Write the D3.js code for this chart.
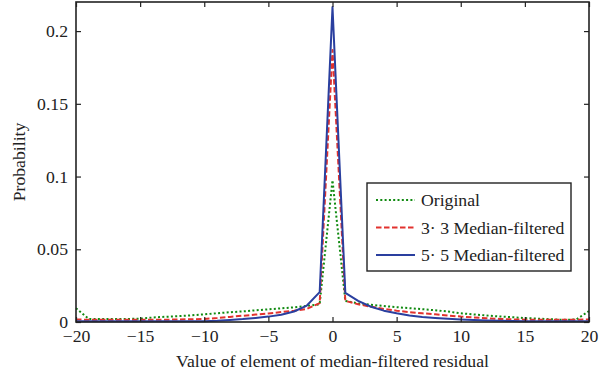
<!DOCTYPE html>
<html>
<head>
<meta charset="utf-8">
<script src="https://cdn.jsdelivr.net/npm/d3@7"></script>
<style>
    body { margin: 0; background: #fff; }
    svg { display: block; }
    .tick-label, .axis-title, .legend-text {
        font-family: "Liberation Serif", "Times New Roman", serif;
        font-size: 17.7px;
        fill: #222;
    }
</style>
</head>
<body>
<div id="chart"></div>
<script>
// value of residual element (x) and probability per filter
const xValues = d3.range(-20, 21);

const original = [
    0.0095, 0.0021, 0.0020, 0.0020, 0.0021, 0.0023, 0.0031, 0.0036, 0.0040, 0.0046,
    0.0053, 0.0060, 0.0067, 0.0073, 0.0080, 0.0087, 0.0094, 0.0101, 0.0110, 0.0122,
    0.0975,
    0.0145, 0.0128, 0.0118, 0.0110, 0.0102, 0.0095, 0.0088, 0.0081, 0.0072, 0.0060,
    0.0052, 0.0045, 0.0038, 0.0033, 0.0027, 0.0023, 0.0019, 0.0015, 0.0017, 0.0075,
];

const median3 = [
    0.0018, 0.0015, 0.0015, 0.0015, 0.0015, 0.0015, 0.0015, 0.0016, 0.0017, 0.0019,
    0.0021, 0.0027, 0.0035, 0.0043, 0.0051, 0.0059, 0.0068, 0.0078, 0.0090, 0.0130,
    0.1870,
    0.0145, 0.0122, 0.0105, 0.0090, 0.0078, 0.0068, 0.0060, 0.0053, 0.0045, 0.0037,
    0.0031, 0.0026, 0.0021, 0.0018, 0.0016, 0.0015, 0.0015, 0.0015, 0.0015, 0.0018,
];

const median5 = [
    0.0005, 0.0005, 0.0005, 0.0005, 0.0005, 0.0005, 0.0005, 0.0005, 0.0005, 0.0005,
    0.0006, 0.0009, 0.0014, 0.0020, 0.0028, 0.0037, 0.0050, 0.0072, 0.0113, 0.0205,
    0.2165,
    0.0200, 0.0145, 0.0105, 0.0078, 0.0060, 0.0045, 0.0035, 0.0028, 0.0022, 0.0017,
    0.0013, 0.0010, 0.0008, 0.0007, 0.0006, 0.0005, 0.0005, 0.0005, 0.0005, 0.0005,
];

const xTicks = [-20, -15, -10, -5, 0, 5, 10, 15, 20];
const yTicks = [0, 0.05, 0.1, 0.15, 0.2];

const series = [
    { name: 'Original', values: original, color: '#108a10', dash: '2,2.3' },
    { name: '3· 3 Median-filtered', values: median3, color: '#e2322e', dash: '5.5,2.5' },
    { name: '5· 5 Median-filtered', values: median5, color: '#2a3f9f', dash: null },
];

const width = 605;
const height = 377;
const margin = { top: 2, right: 16, bottom: 55, left: 76 };
const innerW = width - margin.left - margin.right;
const innerH = height - margin.top - margin.bottom;

const svg = d3.select('#chart')
    .append('svg')
    .attr('width', width)
    .attr('height', height);

const g = svg.append('g')
    .attr('transform', `translate(${margin.left},${margin.top})`);

const x = d3.scaleLinear().domain([-20, 20]).range([0, innerW]);
const y = d3.scaleLinear().domain([0, 0.22]).range([innerH, 0]);

const line = d3.line()
    .x((d, i) => x(xValues[i]))
    .y(d => y(d));

series.forEach(s => {
    g.append('path')
        .datum(s.values)
        .attr('fill', 'none')
        .attr('stroke', s.color)
        .attr('stroke-width', 2)
        .attr('stroke-dasharray', s.dash)
        .attr('stroke-linejoin', 'round')
        .attr('d', line);
});

// axes, MATLAB style: ticks inward on all four sides
const tickLen = 5;
const fmtY = d => (d === 0 ? '0' : String(+d.toFixed(2)));

g.append('g')
    .attr('transform', `translate(0,${innerH})`)
    .call(d3.axisBottom(x).tickValues(xTicks).tickSize(-tickLen).tickPadding(7).tickFormat(d3.format('d')))
    .call(a => a.select('.domain').remove());

g.append('g')
    .call(d3.axisTop(x).tickValues(xTicks).tickSize(-tickLen).tickFormat(''))
    .call(a => a.select('.domain').remove());

g.append('g')
    .call(d3.axisLeft(y).tickValues(yTicks).tickSize(-tickLen).tickPadding(8).tickFormat(fmtY))
    .call(a => a.select('.domain').remove());

g.append('g')
    .attr('transform', `translate(${innerW},0)`)
    .call(d3.axisRight(y).tickValues(yTicks).tickSize(-tickLen).tickFormat(''))
    .call(a => a.select('.domain').remove());

g.selectAll('.tick line').attr('stroke', '#222').attr('stroke-width', 1.2);
g.selectAll('.tick text')
    .attr('class', 'tick-label')
    .attr('font-size', null)
    .attr('font-family', null);

g.append('rect')
    .attr('width', innerW)
    .attr('height', innerH)
    .attr('fill', 'none')
    .attr('stroke', '#222')
    .attr('stroke-width', 1.6);

svg.append('text')
    .attr('class', 'axis-title')
    .attr('x', margin.left + innerW / 2)
    .attr('y', 367)
    .attr('text-anchor', 'middle')
    .text('Value of element of median-filtered residual');

svg.append('text')
    .attr('class', 'axis-title')
    .attr('transform', `translate(25,${margin.top + innerH / 2}) rotate(-90)`)
    .attr('text-anchor', 'middle')
    .text('Probability');

// legend
const legend = svg.append('g').attr('transform', 'translate(367,183)');
legend.append('rect')
    .attr('width', 204)
    .attr('height', 88)
    .attr('fill', '#fff')
    .attr('stroke', '#222')
    .attr('stroke-width', 1.4);

series.forEach((s, i) => {
    const ly = 17 + i * 27.5;
    legend.append('line')
        .attr('x1', 9).attr('x2', 48)
        .attr('y1', ly).attr('y2', ly)
        .attr('stroke', s.color)
        .attr('stroke-width', 2)
        .attr('stroke-dasharray', s.dash);
    legend.append('text')
        .attr('class', 'legend-text')
        .attr('x', 54)
        .attr('y', ly)
        .attr('dy', '0.35em')
        .text(s.name);
});
</script>
</body>
</html>
